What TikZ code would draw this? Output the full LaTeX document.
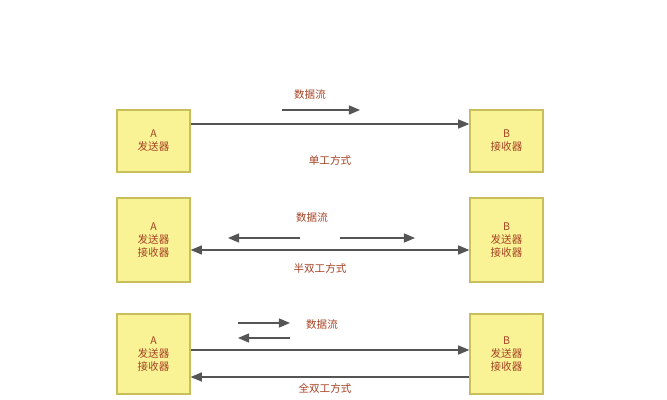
\documentclass[tikz,border=0pt]{standalone}
\usepackage{fontspec}
\newfontfamily\cjk{Noto Sans CJK SC}
\usetikzlibrary{arrows}
\definecolor{boxfill}{RGB}{250,243,150}
\definecolor{boxline}{RGB}{200,190,90}
\definecolor{txt}{RGB}{165,65,35}
\definecolor{ln}{RGB}{85,85,85}
\tikzset{
  station/.style={draw=boxline,fill=boxfill,line width=1.2pt,minimum width=73\unitlen,align=center,text=txt,font=\cjk\small,inner sep=0pt},
  flow/.style={draw=ln,line width=1.2pt,-triangle 45},
  lbl/.style={text=txt,font=\cjk\small}
}
\newlength\unitlen \setlength\unitlen{0.03cm}
\begin{document}
\begin{tikzpicture}[x=0.03cm,y=-0.03cm]
	\useasboundingbox (0,0) rectangle (667,400);
	% simplex
	\node[station,minimum height=62\unitlen] (a1) at (153.5,141) {A\\发送器};
	\node[station,minimum height=62\unitlen] (b1) at (506.5,141) {B\\接收器};
	\draw[flow] (a1.east |- 0,124) -- (b1.west |- 0,124);
	\path (282,110) coordinate (s1l);
	\path (360,110) coordinate (s1r);
	\draw[flow] (s1l) -- (s1r);
	\node[lbl] (d1) at (310,95) {数据流};
	\node[lbl] (m1) at (330,160) {单工方式};
	% half duplex
	\node[station,minimum height=84\unitlen] (a2) at (153.5,240) {A\\发送器\\接收器};
	\node[station,minimum height=84\unitlen] (b2) at (506.5,240) {B\\发送器\\接收器};
	\draw[flow,triangle 45-triangle 45] (a2.east |- 0,250) -- (b2.west |- 0,250);
	\path (300,238) coordinate (s2a);
	\path (228,238) coordinate (s2b);
	\path (340,238) coordinate (s2c);
	\path (415,238) coordinate (s2d);
	\draw[flow] (s2a) -- (s2b);
	\draw[flow] (s2c) -- (s2d);
	\node[lbl] (d2) at (312,218) {数据流};
	\node[lbl] (m2) at (320,268) {半双工方式};
	% full duplex
	\node[station,minimum height=80\unitlen] (a3) at (153.5,354) {A\\发送器\\接收器};
	\node[station,minimum height=80\unitlen] (b3) at (506.5,354) {B\\发送器\\接收器};
	\draw[flow] (a3.east |- 0,350) -- (b3.west |- 0,350);
	\draw[flow] (b3.west |- 0,377) -- (a3.east |- 0,377);
	\path (238,323) coordinate (s3a);
	\path (290,323) coordinate (s3b);
	\path (290,338) coordinate (s3c);
	\path (238,338) coordinate (s3d);
	\draw[flow] (s3a) -- (s3b);
	\draw[flow] (s3c) -- (s3d);
	\node[lbl] (d3) at (322,325) {数据流};
	\node[lbl] (m3) at (325,388) {全双工方式};
\end{tikzpicture}
\end{document}
